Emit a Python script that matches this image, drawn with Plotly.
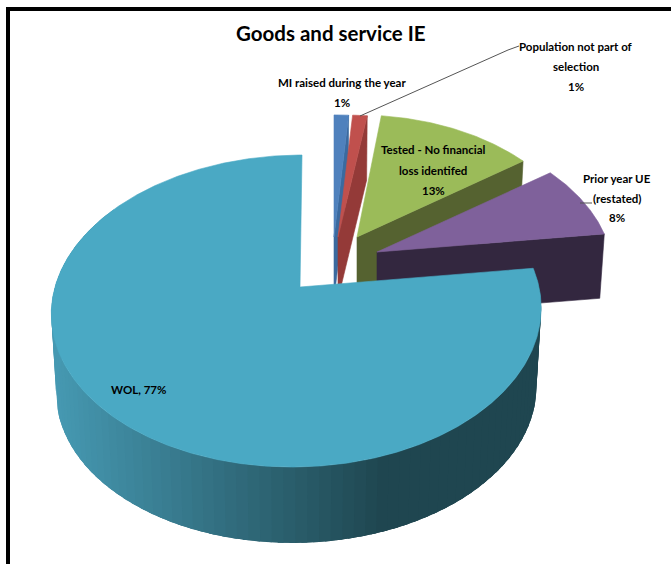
import numpy as np
import plotly.graph_objects as go

# Share of each finding, clockwise from twelve o'clock
categories = ["MI raised during the year", "Population not part of selection",
              "Tested - No financial loss identifed", "Prior year UE (restated)", "WOL"]
values = [1, 1, 13, 8, 77]
label_lines = [["MI raised during the year", "1%"],
               ["Population not part of", "selection", "1%"],
               ["Tested - No financial", "loss identifed", "13%"],
               ["Prior year UE", "(restated)", "8%"],
               ["WOL, 77%"]]
title_text = "Goods and service IE"

# Look of each slice: face colour, cut-face colour, hub position, rim scale, wall height,
# extra width and a small sideways lean of the disc
slice_style = [
    dict(top="#4F81BD", cut="#3B6A9F", hub=(334, 237), scale=0.925, wall=62, wide=1.2, x0=0, xv=0),
    dict(top="#C0504D", cut="#943A38", hub=(338, 237), scale=0.925, wall=62, wide=1.2, x0=0, xv=0),
    dict(top="#9BBB59", cut="#556230", hub=(357, 237), scale=0.925, wall=62, wide=1.0, x0=0, xv=0),
    dict(top="#7F619B", cut="#33273F", hub=(377, 252), scale=0.965, wall=64, wide=1.0, x0=0, xv=0),
    dict(top="#4AA9C4", cut="#1F4650", hub=(300, 287), scale=1.0, wall=79.5, wide=1.0, x0=-3, xv=5),
]
label_style = [
    dict(x=342, y=[82, 102]),
    dict(x=576, y=[46, 66, 86]),
    dict(x=433, y=[149, 170, 190]),
    dict(x=617, y=[178, 198, 217]),
    dict(x=138, y=[389]),
]
FONT = "Lato, sans-serif"

# Perspective of the pie's plane: disc coordinates to screen offsets
DEPTH, HALF_W, HALF_H = 0.154, 242.0, 152.3


def project(bearing_deg, style):
    t = np.radians(np.asarray(bearing_deg, dtype=float))
    u, v = np.sin(t), np.cos(t)
    w = 1 + DEPTH * v
    s = style["scale"]
    dx = style["wide"] * s * HALF_W * u / w + style["x0"] + style["xv"] * v
    return dx, -s * HALF_H * v / w


def rim(style, bearing, lower=False):
    dx, dy = project(bearing, style)
    hx, hy = style["hub"]
    if lower:
        k = 0.98
        return hx + k * dx, hy + style["wall"] + k * dy
    return hx + dx, hy + dy


def polygon(xs, ys, color, width=0.6):
    return go.Scatter(x=list(xs), y=list(ys), mode="lines", fill="toself", fillcolor=color,
                      line=dict(color=color, width=width), hoverinfo="skip", showlegend=False)


def mix(a, b, f):
    ca = np.array([int(a[i:i + 2], 16) for i in (1, 3, 5)])
    cb = np.array([int(b[i:i + 2], 16) for i in (1, 3, 5)])
    c = np.round(ca + (cb - ca) * f).astype(int)
    return "rgb(%d,%d,%d)" % tuple(c)


fig = go.Figure()
edges = np.concatenate([[0], np.cumsum(values)]) * 360.0 / sum(values)

for i, style in enumerate(slice_style):
    start, end = edges[i], edges[i + 1]
    hx, hy = style["hub"]
    arc = np.linspace(start, end, max(8, int(end - start) * 2))

    if i < len(values) - 1:
        # Cut face along the slice's clockwise edge
        tx, ty = rim(style, end)
        bx, by = rim(style, end, lower=True)
        fig.add_trace(polygon([hx, tx, bx, hx, hx], [hy, ty, by, hy + style["wall"], hy], style["cut"]))
    else:
        # Curved wall of the large slice, shaded from left to right; each band overlaps the next
        steps = np.linspace(start, 300, 91)
        gap = steps[1] - steps[0]
        for a in steps[:-1]:
            band = np.linspace(a, a + 2.5 * gap, 6)
            tx, ty = rim(style, band)
            bx, by = rim(style, band, lower=True)
            f = np.clip((385 - bx[0:2].mean()) / (385 - 59), 0, 1)
            fig.add_trace(polygon(np.r_[tx, bx[::-1], tx[0]], np.r_[ty, by[::-1], ty[0]],
                                  mix("#1F4650", "#4699B2", f), width=0))

    xs, ys = rim(style, arc)
    fig.add_trace(polygon(np.r_[hx, xs, hx], np.r_[hy, ys, hy], style["top"]))

# Leader lines from the rim to the outer labels
leader_x = [[360, 508, 519], [580, 592]]
leader_y = [[116, 50, 46], [203, 203]]
for lx, ly in zip(leader_x, leader_y):
    fig.add_trace(go.Scatter(x=lx, y=ly, mode="lines", line=dict(color="#555555", width=1),
                             hoverinfo="skip", showlegend=False))

# Dark frame on the left and top
fig.add_trace(go.Scatter(x=[8, 8, 671], y=[564, 9, 9], mode="lines",
                         line=dict(color="#000000", width=4), hoverinfo="skip", showlegend=False))

for lines, place in zip(label_lines, label_style):
    for text, y in zip(lines, place["y"]):
        fig.add_annotation(x=place["x"], y=y, text="<b>%s</b>" % text, showarrow=False,
                           font=dict(family=FONT, size=11.5, color="#000000"),
                           xanchor="center", yanchor="middle")

fig.add_annotation(x=331, y=33, text="<b>%s</b>" % title_text, showarrow=False,
                   font=dict(family=FONT, size=20.5, color="#000000"),
                   xanchor="center", yanchor="middle")

fig.update_layout(width=671, height=564, margin=dict(l=0, r=0, t=0, b=0),
                  paper_bgcolor="white", plot_bgcolor="white", showlegend=False,
                  xaxis=dict(range=[0, 671], visible=False, fixedrange=True),
                  yaxis=dict(range=[564, 0], visible=False, fixedrange=True))
fig.write_html("out.html", config=dict(displayModeBar=False))
